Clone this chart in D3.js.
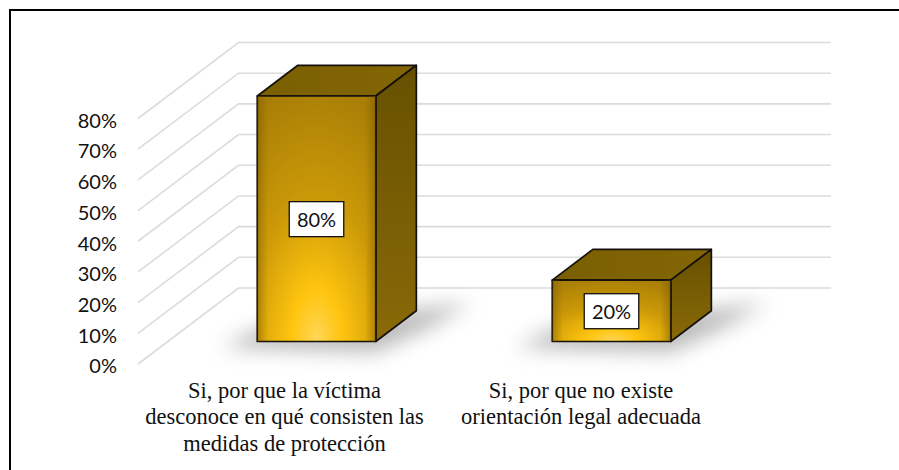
<!DOCTYPE html>
<html><head><meta charset="utf-8">
<script src="https://cdn.jsdelivr.net/npm/d3@7"></script>
<style>html,body{margin:0;padding:0;background:#fff}svg{display:block}</style>
</head><body><div id="c"></div>
<script>
const categories = [["Si, por que la víctima","desconoce en qué consisten las","medidas de protección"],["Si, por que no existe","orientación legal adecuada"]];
const values = [80, 20];
const tickValues = [0,10,20,30,40,50,60,70,80];
const W=899,H=470;
const svg=d3.select("#c").append("svg").attr("width",W).attr("height",H);
const defs=svg.append("defs");
const fmt=d=>d+"%";
// frame: only top and left edges fall inside the picture
svg.append("path").attr("d","M899,10H10V470").attr("fill","none").attr("stroke","#000").attr("stroke-width",2);
// scales
const y=d3.scaleLinear().domain([0,80]).range([0,245.5]);
const zx=d3.scaleLinear().domain([0,1]).range([138,238.5]);
const zy=d3.scaleLinear().domain([0,1]).range([364,288]);
const barZ0=0.296,barZ1=0.70;
const barX=d3.scalePoint().domain([0,1]).range([227.5,522.5]);
const barW=118.5;
const P=(xBase,z,v)=>[xBase+(zx(z)-zx(0)),zy(z)-y(v)];
// grid
const g=svg.append("g").attr("fill","none").attr("stroke","#dcdcdc").attr("stroke-width",1.6);
tickValues.forEach(v=>{
  g.append("path").attr("d",d3.line()([[zx(0),zy(0)-y(v)],[zx(1),zy(1)-y(v)],[831,zy(1)-y(v)]]));
});
// ticks
svg.append("g").selectAll("text").data(tickValues).join("text")
 .attr("x",117).attr("y",v=>zy(0)-y(v)+9.3).attr("text-anchor","end")
 .attr("font-family","Lato").attr("font-size",20).attr("fill","#111").text(fmt);
// gradients
const fg=defs.append("radialGradient").attr("id","front").attr("cx",.5).attr("cy",1).attr("r",1.05);
[[0,"#ffd75a"],[.2,"#ffc50f"],[.55,"#cc9a08"],[1,"#a87e06"]].forEach(s=>fg.append("stop").attr("offset",s[0]).attr("stop-color",s[1]));
const eg=defs.append("linearGradient").attr("id","edge");
[[0,.38],[.09,0],[.91,0],[1,.38]].forEach(s=>eg.append("stop").attr("offset",s[0]).attr("stop-color","#6b4f00").attr("stop-opacity",s[1]));
const sg=defs.append("linearGradient").attr("id","side").attr("x1",0).attr("y1",0).attr("x2",0).attr("y2",1);
sg.append("stop").attr("offset",0).attr("stop-color","#665000");
sg.append("stop").attr("offset",1).attr("stop-color","#8a6a08");
const tg=defs.append("linearGradient").attr("id","top");
tg.append("stop").attr("offset",0).attr("stop-color","#7a5f02");
tg.append("stop").attr("offset",1).attr("stop-color","#836605");
const bl=defs.append("filter").attr("id","blur").attr("x","-40%").attr("y","-100%").attr("width","180%").attr("height","300%");
bl.append("feGaussianBlur").attr("stdDeviation",10);
const lineClosed=d3.line().curve(d3.curveLinearClosed);
values.forEach((v,i)=>{
  const x0=barX(i),x1=x0+barW;
  const A=P(x0,barZ0,0),B=P(x1,barZ0,0),C=P(x1,barZ0,v),D=P(x0,barZ0,v);
  const E=P(x1,barZ1,0),F=P(x1,barZ1,v),Gp=P(x0,barZ1,v);
  const b=svg.append("g");
  b.append("path").attr("d",lineClosed([[A[0]-36,A[1]+6],[A[0]+5,A[1]-14],[E[0]+55,E[1]-8],[E[0]+14,E[1]+16],[B[0],B[1]+11]]))
   .attr("fill","#8c8c8c").attr("opacity",.6).attr("filter","url(#blur)");
  const face=(pts,fill)=>b.append("path").attr("d",lineClosed(pts)).attr("fill",fill).attr("stroke","#14100a").attr("stroke-width",1.7).attr("stroke-linejoin","round");
  face([D,C,F,Gp],"url(#top)");
  face([B,E,F,C],"url(#side)");
  face([A,B,C,D],"url(#front)");
  b.append("path").attr("d",lineClosed([A,B,C,D])).attr("fill","url(#edge)");
  const cx=(A[0]+B[0])/2,cy=(A[1]+D[1])/2;
  const w=54.5,h=35;
  const ly=cy+0.4;
  b.append("rect").attr("x",cx-w/2).attr("y",ly-h/2).attr("width",w).attr("height",h).attr("fill","#fff").attr("stroke","#111").attr("stroke-width",1.3);
  b.append("text").attr("x",cx).attr("y",ly+7.8).attr("text-anchor","middle").attr("font-family","Lato").attr("font-size",20).attr("fill","#111").text(fmt(v));
  const tx=i==0?284.5:581;
  const t=svg.append("text").attr("text-anchor","middle").attr("font-family","Liberation Serif").attr("font-size",22.5).attr("fill","#111");
  categories[i].forEach((s,k)=>t.append("tspan").attr("x",tx).attr("y",397.5+k*26.5).text(s));
});
</script></body></html>
